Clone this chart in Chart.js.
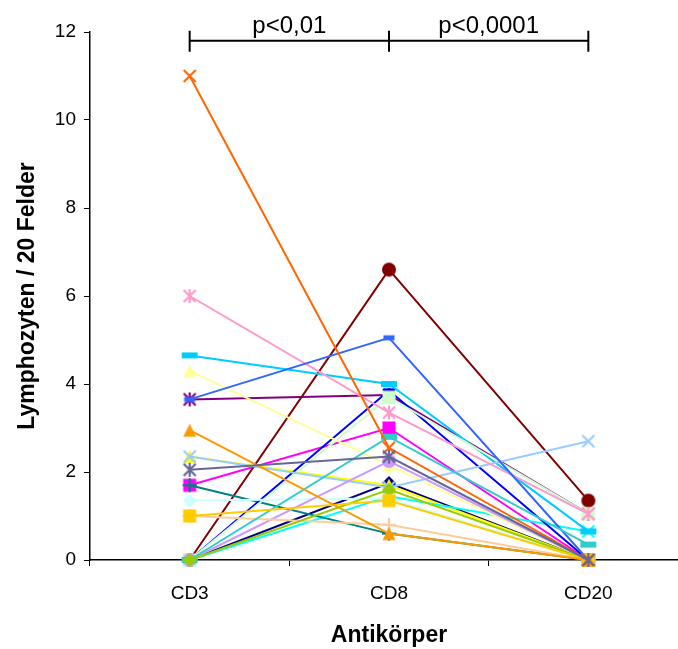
<!DOCTYPE html>
<html>
<head>
<meta charset="utf-8">
<title>Lymphozyten</title>
<script src="https://cdn.jsdelivr.net/npm/chart.js@4"></script>
<style>
  html, body { margin: 0; padding: 0; background: #fff; overflow: hidden; }
</style>
</head>
<body>
<canvas id="lymphChart" width="696" height="649"></canvas>
<script>
// === DATA ===
const categories = ["CD3", "CD8", "CD20"];
const yTicks = [0, 2, 4, 6, 8, 10, 12];
const pLabels = ["p<0,01", "p<0,0001"];

// Lymphozyten pro 20 Felder, je Patient: CD3, CD8, CD20
const pat01 = [0, 1.75, 0];
const pat02 = [1.7, 3.0, 0];
const pat03 = [2.35, 1.7, 0];
const pat04 = [0, 1.45, 0.65];
const pat05 = [3.65, 3.75, 1.05];
const pat06 = [0, 6.6, 1.35];
const pat07 = [1.7, 0.6, 0];
const pat08 = [0, 3.85, 0];
const pat09 = [4.65, 4.0, 0.65];
const pat10 = [1.35, 1.4, 0];
const pat11 = [0, 3.7, 1.05];
const pat12 = [4.3, 2.15, 0];
const pat13 = [2.35, 1.65, 2.7];
const pat14 = [6.0, 3.35, 1.05];
const pat15 = [0, 2.25, 0];
const pat16 = [1.0, 0.8, 0];
const pat17 = [3.65, 5.05, 0];
const pat18 = [0, 2.8, 0.35];
const pat19 = [0, 1.6, 0];
const pat20 = [1.0, 1.35, 0];
const pat21 = [2.95, 0.6, 0];
const pat22 = [11.0, 2.55, 0];
const pat23 = [2.05, 2.35, 0];

const patients = [
  pat01, pat02, pat03, pat04, pat05, pat06, pat07, pat08, pat09, pat10, pat11, pat12,
  pat13, pat14, pat15, pat16, pat17, pat18, pat19, pat20, pat21, pat22, pat23,
];

// === STYLES ===
const colors = [
  "#000080", "#FF00FF", "#FFFF00", "#00FFFF", "#800080", "#800000", "#008080", "#0000FF",
  "#00CCFF", "#CCFFFF", "#CCFFCC", "#FFFF99", "#99CCFF", "#FF99CC", "#CC99FF", "#FFCC99",
  "#3366FF", "#33CCCC", "#99CC00", "#FFCC00", "#FF9900", "#FF6600", "#666699",
];
const shapes = [
  "diamond", "square", "triangle", "x", "star", "circle", "plus", "dash",
  "longdash", "diamond", "square", "triangle", "x", "star", "circle", "plus",
  "dash", "longdash", "diamond", "square", "triangle", "x", "star",
];

function makeMarker(shape, color) {
  const c = document.createElement("canvas");
  c.width = 20;
  c.height = 20;
  const g = c.getContext("2d");
  g.translate(10, 10);
  g.fillStyle = color;
  g.strokeStyle = color;
  g.lineWidth = 2.2;
  g.beginPath();
  switch (shape) {
    case "diamond":
      g.moveTo(0, -7); g.lineTo(7, 0); g.lineTo(0, 7); g.lineTo(-7, 0);
      g.closePath(); g.fill();
      break;
    case "square":
      g.fillRect(-6.5, -6.5, 13, 13);
      break;
    case "triangle":
      g.moveTo(0, -6.5); g.lineTo(6.5, 6.5); g.lineTo(-6.5, 6.5);
      g.closePath(); g.fill();
      break;
    case "circle":
      g.arc(0, 0, 7, 0, Math.PI * 2); g.fill();
      break;
    case "x":
      g.moveTo(-6, -6); g.lineTo(6, 6); g.moveTo(6, -6); g.lineTo(-6, 6);
      g.stroke();
      break;
    case "star":
      g.moveTo(-6, -6); g.lineTo(6, 6); g.moveTo(6, -6); g.lineTo(-6, 6);
      g.moveTo(0, -7); g.lineTo(0, 7);
      g.stroke();
      break;
    case "plus":
      g.moveTo(-7, 0); g.lineTo(7, 0); g.moveTo(0, -7); g.lineTo(0, 7);
      g.stroke();
      break;
    case "dash":
      g.fillRect(-5.5, -2.5, 11, 5);
      break;
    case "longdash":
      g.fillRect(-8, -3, 16, 6);
      break;
  }
  return c;
}

// === P-VALUE BRACKETS ===
const brackets = {
  id: "brackets",
  afterDraw(chart) {
    const { ctx, scales: { x, y } } = chart;
    const yLine = y.getPixelForValue(11.8);
    const xs = categories.map((c, i) => x.getPixelForValue(i));
    ctx.save();
    ctx.strokeStyle = "#000";
    ctx.lineWidth = 2;
    ctx.beginPath();
    ctx.moveTo(xs[0], yLine);
    ctx.lineTo(xs[xs.length - 1], yLine);
    xs.forEach((px) => {
      ctx.moveTo(px, yLine - 10);
      ctx.lineTo(px, yLine + 11);
    });
    ctx.stroke();
    ctx.fillStyle = "#000";
    ctx.font = "24px 'Liberation Sans', Arial, sans-serif";
    ctx.textAlign = "center";
    ctx.textBaseline = "bottom";
    pLabels.forEach((t, i) => ctx.fillText(t, (xs[i] + xs[i + 1]) / 2, yLine - 2));
    ctx.restore();
  },
};

Chart.defaults.color = "#000";
Chart.defaults.font.family = "'Liberation Sans', Arial, sans-serif";
Chart.defaults.font.size = 19;

const ctx = document.getElementById("lymphChart").getContext("2d");
const lymphChart = new Chart(ctx, {
  type: "line",
  data: {
    labels: categories,
    datasets: patients.map((vals, i) => ({
      label: "Patient " + (i + 1),
      data: vals,
      borderColor: colors[i],
      backgroundColor: colors[i],
      borderWidth: 2,
      tension: 0,
      pointStyle: makeMarker(shapes[i], colors[i]),
      pointRadius: 6,
      pointHoverRadius: 6,
      clip: false,
      order: patients.length - i,
    })),
  },
  options: {
    responsive: false,
    animation: false,
    events: [],
    layout: { padding: { top: 32, right: 4, left: 0, bottom: 0 } },
    plugins: {
      legend: { display: false },
      tooltip: { enabled: false },
    },
    scales: {
      x: {
        offset: true,
        afterFit: (scale) => { scale.height = 89; },
        grid: {
          offset: true,
          drawOnChartArea: false,
          color: "#000",
          tickLength: 6,
        },
        border: { color: "#000", width: 1.5 },
        ticks: { padding: 16, font: { size: 19 } },
        title: {
          display: true,
          text: "Antikörper",
          font: { size: 23, weight: "bold" },
          padding: { top: 0, bottom: 0 },
        },
      },
      y: {
        min: 0,
        max: 12,
        afterFit: (scale) => { scale.width = 90; },
        afterBuildTicks: (scale) => {
          scale.ticks = yTicks.map((v) => ({ value: v }));
        },
        grid: {
          drawOnChartArea: false,
          color: "#000",
          tickLength: 6,
        },
        border: { color: "#000", width: 1.5 },
        ticks: { padding: 8, font: { size: 19 } },
        title: {
          display: true,
          text: "Lymphozyten / 20 Felder",
          font: { size: 23, weight: "bold" },
          padding: { top: 14, bottom: 0 },
        },
      },
    },
  },
  plugins: [brackets],
});
</script>
</body>
</html>
